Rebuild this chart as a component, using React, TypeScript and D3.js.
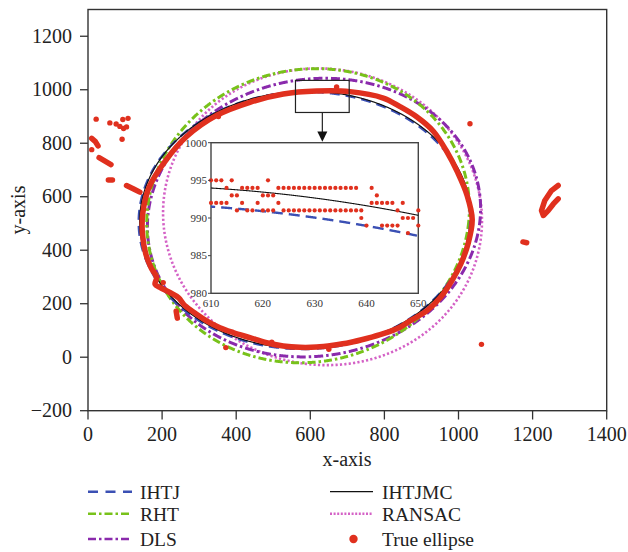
import React from "react";
import * as d3 from "d3";

const xTicks = [0, 200, 400, 600, 800, 1000, 1200, 1400];
const yTicks = [-200, 0, 200, 400, 600, 800, 1000, 1200];
const insetXTicks = [610, 620, 630, 640, 650];
const insetYTicks = [980, 985, 990, 995, 1000];

// fitted ellipses: [cx, cy, rx, ry, rotationDeg]
const ihtjFit = [584.1, 511.25, 447, 481, -5];
const ihtjmcFit = [586.8, 513.6, 447, 481, -5];
const rhtFit = [594, 529, 434, 551, -6];
const dlsFit = [610, 522, 446, 524, -12];
const ransacFit = [633, 525, 430, 555, 3];

// true ellipse contour (edge points)
const trueContour: [number, number][] = [
  [147, 461], [148, 540], [165, 636], [210, 736], [266, 825], [347, 904], [437, 953],
  [527, 984], [617, 995], [707, 993], [797, 969], [842, 937], [887, 899], [932, 845],
  [968, 770], [998, 690], [1023, 606], [1037, 515], [1026, 425], [1006, 348], [982, 286],
  [951, 223], [914, 173], [869, 136], [842, 112], [797, 88], [752, 70], [707, 55],
  [662, 45], [617, 38], [572, 37], [527, 42], [482, 54], [437, 73], [392, 92], [356, 110],
  [320, 136], [293, 161], [262, 192], [244, 223], [221, 242], [194, 261], [181, 273],
  [185, 298], [170, 335], [156, 386],
];

// noise blobs of the true-ellipse point set
const trueStrokes: [number, number][][] = [
  [[10, 818], [20, 806], [27, 790]],
  [[30, 746], [62, 720]],
  [[55, 663], [66, 663]],
  [[104, 642], [122, 630], [140, 617]],
  [[238, 172], [241, 146]],
  [[1269, 642], [1251, 623], [1233, 586], [1224, 548], [1229, 530], [1242, 548], [1256, 573], [1269, 592]],
  [[1174, 431], [1184, 428]],
];
const trueDots: [number, number][] = [
  [22, 890], [59, 876], [76, 872], [86, 863], [94, 889], [108, 893], [96, 855], [104, 861],
  [92, 815], [10, 776], [203, 279], [372, 36], [650, 30], [671, 1010], [1031, 873],
  [1062, 48], [352, 900], [496, 56],
];

// inset (zoomed) true-ellipse points
const insetTrueDots: [number, number][] = [
  [610, 995], [611, 995], [612, 995], [614, 995], [621, 995],
  [613, 994], [616, 994], [617, 994], [618, 994], [619, 994],
  [623, 994], [624, 994], [625, 994], [626, 994], [627, 994], [628, 994], [629, 994], [630, 994],
  [631, 994], [632, 994], [633, 994], [634, 994], [635, 994], [636, 994], [637, 994], [638, 994],
  [641, 994],
  [614, 993], [615, 993], [620, 993], [621, 993], [622, 993], [642, 993],
  [610, 992], [611, 992], [612, 992], [613, 992], [616, 992], [619, 992], [623, 992],
  [641, 992], [642, 992], [643, 992], [644, 992], [645, 992], [647, 992],
  [615, 991], [617, 991], [618, 991], [620, 991], [621, 991], [622, 991],
  [624, 991], [625, 991], [626, 991], [627, 991], [628, 991], [629, 991], [630, 991], [631, 991],
  [632, 991], [633, 991], [634, 991], [635, 991], [636, 991], [637, 991], [638, 991], [639, 991],
  [646, 991], [650, 991],
  [639, 990], [647, 990], [648, 990], [649, 990],
  [640, 989], [643, 989], [644, 989], [645, 989], [646, 989], [650, 989],
  [648, 988],
];

const zoomBox = [560, 705, 915, 1035];

const COLORS = {
  ihtj: "#3b50b4",
  rht: "#78c21a",
  dls: "#8a2aac",
  ihtjmc: "#111111",
  ransac: "#d462c6",
  truth: "#e0301e",
};

function ellipsePts(p: number[], n = 2880): [number, number][] {
  const [cx, cy, rx, ry, rot] = p;
  const f = (rot * Math.PI) / 180;
  const out: [number, number][] = [];
  for (let i = 0; i <= n; i++) {
    const t = (2 * Math.PI * i) / n;
    const c = Math.cos(t), s = Math.sin(t);
    out.push([
      cx + rx * c * Math.cos(f) - ry * s * Math.sin(f),
      cy + rx * c * Math.sin(f) + ry * s * Math.cos(f),
    ]);
  }
  return out;
}

const FONT = "Liberation Serif, DejaVu Serif, Times New Roman, serif";

export default function App() {
  const W = 628, H = 552;
  const x = d3.scaleLinear().domain([0, 1400]).range([88, 606.7]);
  const y = d3.scaleLinear().domain([-200, 1300]).range([410.7, 9.5]);
  const ix = d3.scaleLinear().domain([610, 650]).range([211, 418.3]);
  const iy = d3.scaleLinear().domain([980, 1000]).range([293.3, 142.7]);

  const line = d3.line<[number, number]>().x((d) => x(d[0])).y((d) => y(d[1]));
  const closed = d3
    .line<[number, number]>()
    .x((d) => x(d[0]))
    .y((d) => y(d[1]))
    .curve(d3.curveCatmullRomClosed.alpha(0.5));
  const iline = d3.line<[number, number]>().x((d) => ix(d[0])).y((d) => iy(d[1]));

  const ts = (size: number): React.CSSProperties => ({ fontFamily: FONT, fontSize: size });

  const fits = [
    { p: ransacFit, c: COLORS.ransac, w: 2.6, dash: "2.2 2.2" },
    { p: dlsFit, c: COLORS.dls, w: 3, dash: "9 3 2.5 3" },
    { p: rhtFit, c: COLORS.rht, w: 3, dash: "8 3 2.5 3" },
    { p: ihtjFit, c: COLORS.ihtj, w: 2.4, dash: "10 6" },
    { p: ihtjmcFit, c: COLORS.ihtjmc, w: 1.2, dash: "" },
  ];

  const bx = x(zoomBox[0]), bx2 = x(zoomBox[1]);
  const by = y(zoomBox[3]), by2 = y(zoomBox[2]);
  const arrowX = (bx + bx2) / 2;

  const legendLeft = [
    { name: "IHTJ", c: COLORS.ihtj, w: 2.6, dash: "10 7.5" },
    { name: "RHT", c: COLORS.rht, w: 2.6, dash: "8 3 2.5 3" },
    { name: "DLS", c: COLORS.dls, w: 2.6, dash: "8 3 2.5 3" },
  ];
  const legendRight = [
    { name: "IHTJMC", c: COLORS.ihtjmc, w: 1.3, dash: "" },
    { name: "RANSAC", c: COLORS.ransac, w: 2.4, dash: "2 1.6" },
  ];
  const rowY = [491.7, 513.8, 539];

  return (
    <svg width={W} height={H} style={{ display: "block", position: "absolute", left: 0, top: 0 }}>
      <defs>
        <clipPath id="plotClip">
          <rect x={88} y={9.5} width={518.7} height={401.2} />
        </clipPath>
        <clipPath id="insetClip">
          <rect x={211} y={142.7} width={207.3} height={150.6} />
        </clipPath>
      </defs>
      <rect x={0} y={0} width={W} height={H} fill="#fff" />

      <g clipPath="url(#plotClip)">
        {fits.map((f, i) => (
          <path key={i} d={line(ellipsePts(f.p)) || ""} fill="none" stroke={f.c}
            strokeWidth={f.w} strokeDasharray={f.dash || undefined} />
        ))}
        <path d={closed(trueContour) || ""} fill="none" stroke={COLORS.truth} strokeWidth={5.5} strokeLinejoin="round" />
        {trueStrokes.map((s, i) => (
          <path key={i} d={line(s) || ""} fill="none" stroke={COLORS.truth} strokeWidth={5.5}
            strokeLinecap="round" strokeLinejoin="round" />
        ))}
        {trueDots.map((d, i) => (
          <circle key={i} cx={x(d[0])} cy={y(d[1])} r={2.7} fill={COLORS.truth} />
        ))}
      </g>

      {/* zoom box and arrow */}
      <rect x={bx} y={by} width={bx2 - bx} height={by2 - by} fill="none" stroke="#222" strokeWidth={1.2} />
      <line x1={arrowX} y1={by2} x2={arrowX} y2={132} stroke="#222" strokeWidth={1.2} />
      <path d={`M${arrowX - 5},131.5 L${arrowX + 5},131.5 L${arrowX},141.8 Z`} fill="#111" />

      {/* inset */}
      <rect x={211} y={142.7} width={207.3} height={150.6} fill="#fff" stroke="#444" strokeWidth={1.4} />
      <g clipPath="url(#insetClip)">
        <path d={iline(ellipsePts(ihtjmcFit, 40000)) || ""} fill="none" stroke={COLORS.ihtjmc} strokeWidth={1.1} />
        <path d={iline(ellipsePts(ihtjFit, 40000)) || ""} fill="none" stroke={COLORS.ihtj}
          strokeWidth={2.4} strokeDasharray="11 6" strokeDashoffset={3} />
      </g>
      {insetTrueDots.map((d, i) => (
        <circle key={i} cx={ix(d[0])} cy={iy(d[1])} r={2.1} fill={COLORS.truth} />
      ))}
      {insetYTicks.map((t) => (
        <g key={t}>
          <line x1={208} x2={211} y1={iy(t)} y2={iy(t)} stroke="#444" strokeWidth={1} />
          <text x={207} y={iy(t) + 3.8} textAnchor="end" style={ts(11)} fill="#333">{t}</text>
        </g>
      ))}
      {insetXTicks.map((t) => (
        <g key={t}>
          <text x={ix(t)} y={306.5} textAnchor="middle" style={ts(11)} fill="#333">{t}</text>
        </g>
      ))}

      {/* frame */}
      <rect x={88} y={9.5} width={518.7} height={401.2} fill="none" stroke="#333" strokeWidth={1.4} />
      {yTicks.map((t) => (
        <g key={t}>
          <line x1={80} x2={88} y1={y(t)} y2={y(t)} stroke="#333" strokeWidth={1.3} />
          <text x={72} y={y(t) + 6.5} textAnchor="end" style={ts(20)} fill="#222">
            {t < 0 ? "\u2212" + Math.abs(t) : t}
          </text>
        </g>
      ))}
      {xTicks.map((t) => (
        <g key={t}>
          <line x1={x(t)} x2={x(t)} y1={410.7} y2={419.5} stroke="#333" strokeWidth={1.3} />
          <text x={x(t)} y={440.5} textAnchor="middle" style={ts(20)} fill="#222">{t}</text>
        </g>
      ))}
      <text x={347} y={466} textAnchor="middle" style={ts(20)} fill="#222">x-axis</text>
      <text transform="translate(25,210) rotate(-90)" textAnchor="middle" style={ts(20)} fill="#222">y-axis</text>

      {/* legend */}
      {legendLeft.map((l, i) => (
        <g key={l.name}>
          <line x1={88} x2={132} y1={rowY[i]} y2={rowY[i]} stroke={l.c} strokeWidth={l.w} strokeDasharray={l.dash} />
          <text x={140} y={rowY[i] + 6.8} style={ts(19.5)} fill="#222">{l.name}</text>
        </g>
      ))}
      {legendRight.map((l, i) => (
        <g key={l.name}>
          <line x1={330} x2={373} y1={rowY[i]} y2={rowY[i]} stroke={l.c} strokeWidth={l.w}
            strokeDasharray={l.dash || undefined} />
          <text x={382} y={rowY[i] + 6.8} style={ts(19.5)} fill="#222">{l.name}</text>
        </g>
      ))}
      <circle cx={353.5} cy={rowY[2]} r={4.2} fill={COLORS.truth} />
      <text x={382} y={rowY[2] + 6.8} style={ts(19.5)} fill="#222">True ellipse</text>
    </svg>
  );
}
